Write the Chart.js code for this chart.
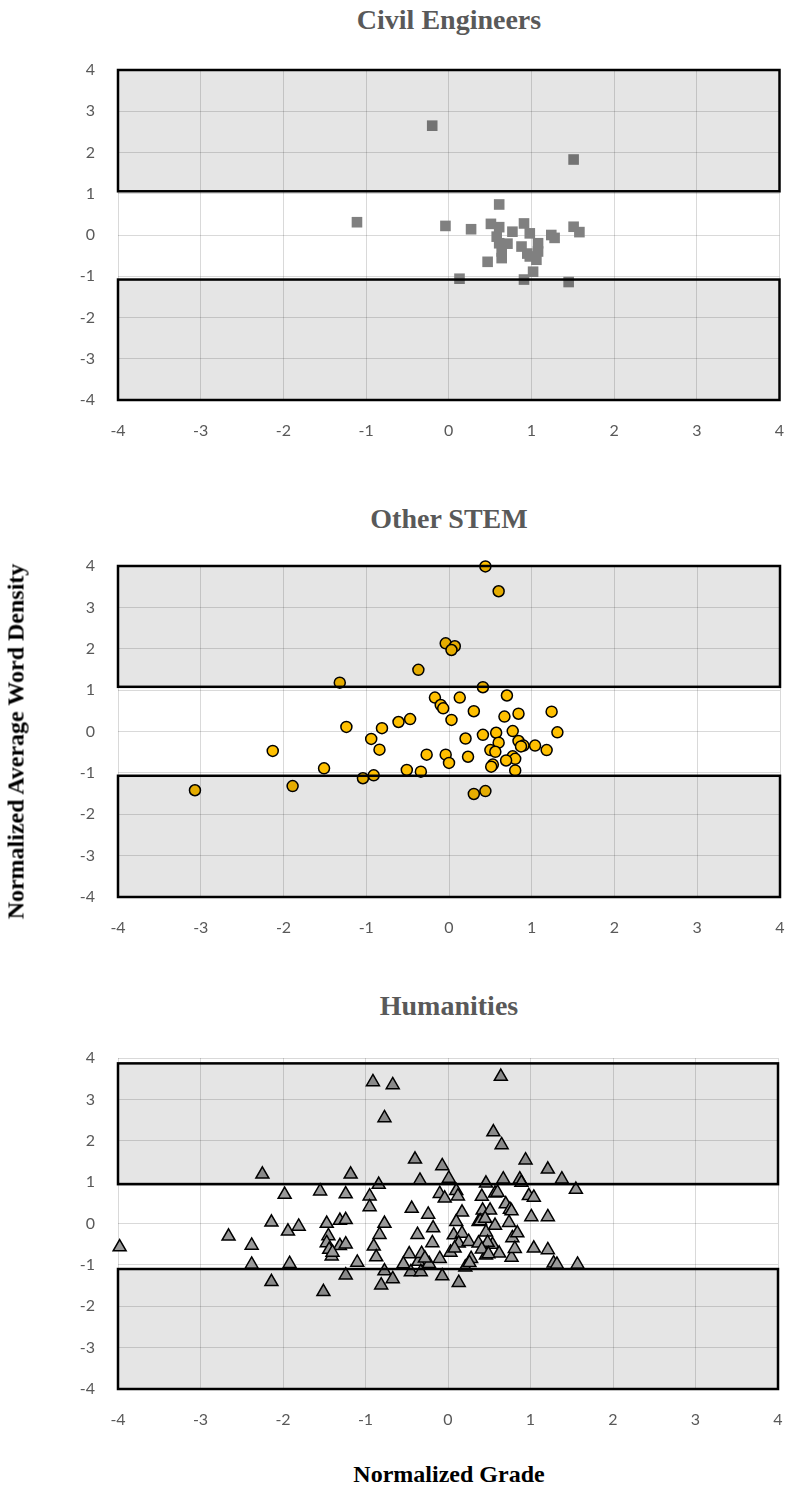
<!DOCTYPE html>
<html>
<head>
<meta charset="utf-8">
<script src="https://cdn.jsdelivr.net/npm/chart.js@4.4.0/dist/chart.umd.min.js"></script>
<style>
  body { margin: 0; background: #fff; }
  #page { position: relative; width: 787px; height: 1488px; overflow: hidden; }
  #page canvas { position: absolute; left: 0; }
  .title { position: absolute; left: 118px; width: 662px; text-align: center; line-height: 30px;
           font: bold 28px "Liberation Serif", "Times New Roman", serif; color: #595959; white-space: nowrap; }
  .axisTitle { position: absolute; text-align: center; line-height: 24px; white-space: nowrap;
               font: bold 24px "Liberation Serif", "Times New Roman", serif; color: #000; }
  #yTitle { left: -234px; top: 728px; width: 500px; transform: rotate(-90deg); }
  #xTitle { left: 118px; top: 1461px; width: 662px; }
</style>
</head>
<body>
<div id="page">
  <div class="title" style="top:4px">Civil Engineers</div>
  <div class="title" style="top:503px">Other STEM</div>
  <div class="title" style="top:990px">Humanities</div>
  <canvas id="civilChart" width="787" height="395" style="top:50px"></canvas>
  <canvas id="stemChart" width="787" height="396" style="top:546px"></canvas>
  <canvas id="humChart" width="787" height="396" style="top:1038px"></canvas>
  <div class="axisTitle" id="yTitle">Normalized Average Word Density</div>
  <div class="axisTitle" id="xTitle">Normalized Grade</div>
</div>
<script>
// axis ticks shared by all three panels
const xTicks = [-4, -3, -2, -1, 0, 1, 2, 3, 4];
const yTicks = [-4, -3, -2, -1, 0, 1, 2, 3, 4];

// Civil Engineers
const civilX = [-0.20, 1.51, -1.11, 0.61, -0.04, 0.27, 0.51, 0.61, 0.91, 0.77, 0.98, 1.24, 1.28, 1.51, 1.58, 0.58,
  0.61, 0.71, 0.88, 1.08, 1.08, 0.64, 0.64, 0.47, 0.98, 1.06, 1.02, 0.13, 0.91, 1.45, 0.95];
const civilY = [2.65, 1.83, 0.31, 0.74, 0.22, 0.14, 0.27, 0.19, 0.28, 0.08, 0.04, 0.00, -0.07, 0.20, 0.07, -0.04,
  -0.20, -0.21, -0.28, -0.20, -0.40, -0.40, -0.56, -0.65, -0.52, -0.60, -0.89, -1.06, -1.08, -1.14, -0.45];
const civilBands = [[1.06, 4], [-4, -1.08]];

// Other STEM
const stemX = [0.44, 0.60, -0.04, 0.07, 0.03, -0.37, -1.32, 0.41, -0.17, 0.13, 0.70, -0.10, -0.07, 0.30, 0.67,
  0.84, 1.24, 0.03, -0.61, -0.47, -1.24, -0.81, -0.94, -0.84, -2.13, -1.51, -1.89, -1.04, -0.91, -0.51,
  -0.34, -0.27, -0.04, 0.00, 0.23, 0.20, 0.41, 0.57, 0.77, 0.60, 0.84, 0.90, 0.87, 1.04, 1.18,
  1.31, 0.50, 0.56, 0.77, 0.80, 0.69, 0.53, 0.51, 0.80, 0.30, 0.44, -3.07];
const stemY = [3.99, 3.39, 2.13, 2.06, 1.97, 1.49, 1.18, 1.07, 0.82, 0.82, 0.87, 0.64, 0.56, 0.49, 0.36,
  0.43, 0.48, 0.28, 0.23, 0.30, 0.11, 0.08, -0.18, -0.44, -0.47, -0.89, -1.32, -1.13, -1.06, -0.93,
  -0.97, -0.56, -0.56, -0.76, -0.61, -0.17, -0.08, -0.03, 0.01, -0.27, -0.23, -0.34, -0.36, -0.34, -0.45,
  -0.02, -0.45, -0.49, -0.60, -0.66, -0.70, -0.80, -0.85, -0.94, -1.51, -1.44, -1.42];
const stemBands = [[1.08, 4], [-4, -1.07]];

// Humanities
const humX = [-3.98, -2.66, -2.38, -2.38, -2.25, -2.14, -2.14, -1.98, -1.94, -1.92, -1.81, -1.55, -1.51, -1.47, -1.45,
  -1.47, -1.44, -1.41, -1.31, -1.24, -1.31, -1.24, -1.24, -1.18, -1.24, -1.10, -0.95, -0.95, -0.84, -0.91,
  -0.67, -0.77, -0.77, -0.83, -0.90, -0.87, -0.77, -0.81, -0.67, -0.44, -0.40, -0.24, -0.37, -0.18, -0.19,
  -0.47, -0.54, -0.45, -0.36, -0.32, -0.34, -0.07, -0.10, -0.04, -0.23, -0.07, -0.33, 0.01, 0.10, 0.17,
  0.10, 0.07, 0.17, 0.13, 0.25, 0.03, 0.13, 0.21, 0.28, 0.26, 0.37, 0.37, 0.41, 0.42, 0.46,
  0.46, 0.46, 0.51, 0.54, 0.55, 0.57, 0.57, 0.62, 0.64, 0.65, 0.67, 0.70, 0.74, 0.75, 0.77,
  0.78, 0.77, 0.81, 0.84, 0.87, 0.89, 0.94, 0.98, 1.04, 1.01, 1.21, 1.04, 1.21, 1.21, 1.38,
  1.55, 1.28, 1.32, 1.57, 0.39, 0.48, 0.41, 0.49, 0.60, 0.12, -1.40, -0.28, 0.45, 0.08, -0.10];
const humY = [-0.57, -0.31, -0.53, -0.99, 1.19, -1.41, 0.03, 0.70, -0.19, -0.97, -0.07, 0.78, -1.65, 0.00, -0.30,
  -0.47, -0.63, -0.79, 0.07, 0.09, -0.54, -0.50, 0.71, 1.19, -1.25, -0.94, 0.66, 0.40, 0.94, 3.42,
  3.35, 2.55, 0.00, -0.27, -0.55, -0.81, -1.15, -1.49, -1.34, 0.36, 1.55, 0.22, -0.27, -0.11, -0.47,
  -0.74, -0.98, -1.17, -0.92, -0.73, 1.04, 1.39, 0.72, 0.61, -0.97, -1.27, -1.17, 1.09, 0.79, 0.27,
  0.04, -0.28, -0.24, -0.48, -0.44, -0.70, -1.43, -1.06, -0.85, -0.95, 0.04, -0.48, 0.65, 0.32, 0.97,
  -0.21, -0.77, 0.32, -0.51, 2.21, 0.73, -0.05, -0.72, 3.55, 1.90, 1.07, 0.47, 0.02, 0.34, 0.30,
  -0.35, -0.82, -0.61, -0.23, 1.07, 0.99, 1.53, 0.67, 0.63, 0.16, 0.16, -0.60, -0.64, 1.31, 1.07,
  0.82, -0.96, -0.99, -0.99, 0.06, -0.46, -0.62, -0.74, 0.75, 0.66, -0.70, -0.84, 0.12, -0.60, -0.85];
const humBands = [[0.95, 3.87], [-4, -1.10]];

const tickColor = "#595959";
const gridColor = "rgba(0, 0, 0, 0.15)";

// shaded bands go on top of the markers, like the Excel original
const bandPlugin = {
  id: "bands",
  afterDatasetsDraw(chart, args, opts) {
    const { ctx, chartArea, scales } = chart;
    ctx.save();
    opts.ranges.forEach(([lo, hi]) => {
      const top = scales.y.getPixelForValue(hi);
      const bottom = scales.y.getPixelForValue(lo);
      const w = chartArea.right - chartArea.left;
      ctx.fillStyle = "rgba(0, 0, 0, 0.1)";
      ctx.fillRect(chartArea.left, top, w, bottom - top);
      ctx.strokeStyle = "#000";
      ctx.lineWidth = 2.5;
      ctx.strokeRect(chartArea.left, top, w, bottom - top);
    });
    ctx.restore();
  }
};

function toPoints(xs, ys) {
  return xs.map((x, i) => ({ x: x, y: ys[i] }));
}

function makeChart(id, xs, ys, bands, marker) {
  const ctx = document.getElementById(id).getContext("2d");
  return new Chart(ctx, {
    type: "scatter",
    data: {
      datasets: [Object.assign({ data: toPoints(xs, ys), clip: false }, marker)]
    },
    options: {
      responsive: false,
      animation: false,
      events: [],
      layout: { padding: { top: 20, right: 7, left: 0, bottom: 0 } },
      plugins: {
        legend: { display: false },
        tooltip: { enabled: false },
        bands: { ranges: bands }
      },
      scales: {
        x: {
          type: "linear",
          min: xTicks[0],
          max: xTicks[xTicks.length - 1],
          afterBuildTicks: (scale) => { scale.ticks = xTicks.map(v => ({ value: v })); },
          afterFit: (scale) => {
            scale.height = 45;
            scale.paddingLeft = 0;
            scale.paddingRight = 0;
          },
          border: { display: false },
          grid: { color: gridColor, lineWidth: 1, drawTicks: false },
          ticks: { color: tickColor, padding: 21, font: { family: "Lato", size: 16 } }
        },
        y: {
          type: "linear",
          min: yTicks[0],
          max: yTicks[yTicks.length - 1],
          afterBuildTicks: (scale) => { scale.ticks = yTicks.map(v => ({ value: v })); },
          afterFit: (scale) => {
            scale.width = 118;
            scale.paddingTop = 0;
            scale.paddingBottom = 0;
          },
          border: { display: false },
          grid: { color: gridColor, lineWidth: 1, drawTicks: false },
          ticks: { color: tickColor, padding: 23, font: { family: "Lato", size: 16 } }
        }
      }
    },
    plugins: [bandPlugin]
  });
}

makeChart("civilChart", civilX, civilY, civilBands, {
  pointStyle: "rect", pointRadius: 7.5, backgroundColor: "#808080", borderWidth: 0
});
makeChart("stemChart", stemX, stemY, stemBands, {
  pointStyle: "circle", pointRadius: 5.5, backgroundColor: "#ffc000", borderColor: "#000", borderWidth: 1.5
});
makeChart("humChart", humX, humY, humBands, {
  pointStyle: "triangle", pointRadius: 7.5, backgroundColor: "#999999", borderColor: "#000", borderWidth: 1.5
});
</script>
</body>
</html>
